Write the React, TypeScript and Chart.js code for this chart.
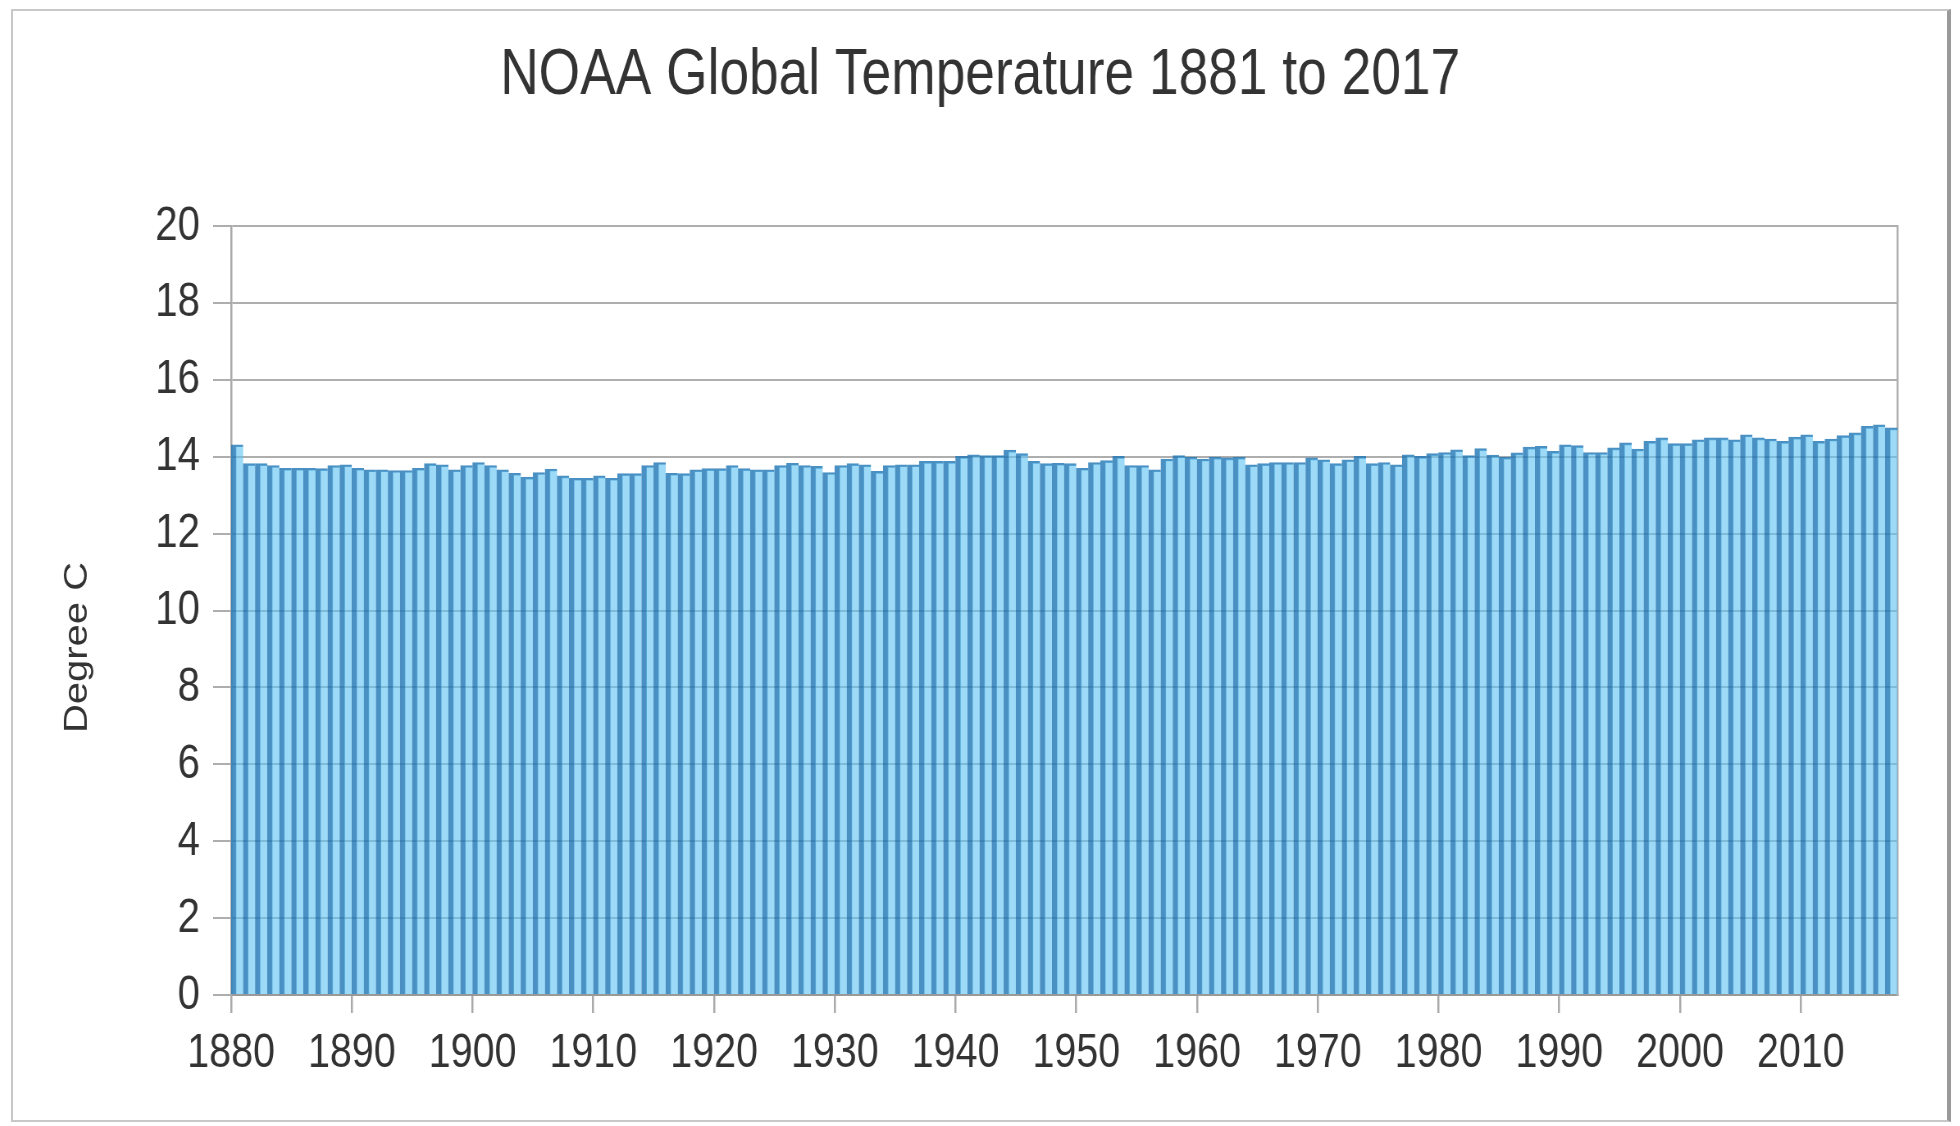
import React, { useEffect, useRef } from "react";
import { Chart, registerables } from "chart.js";

Chart.register(...registerables);

const TITLE = "NOAA Global Temperature 1881 to 2017";
const Y_TITLE = "Degree C";
const FIRST_YEAR = 1880;
const X_MIN = 1880;
const X_MAX = 2018;
const Y_MIN = 0;
const Y_MAX = 20;
const Y_STEP = 2;
const X_STEP = 10;

const temps1880s = [14.31, 13.82, 13.82, 13.77, 13.70, 13.70, 13.70, 13.69, 13.77, 13.79];
const temps1890s = [13.70, 13.66, 13.66, 13.64, 13.64, 13.70, 13.82, 13.79, 13.66, 13.77];
const temps1900s = [13.85, 13.77, 13.66, 13.57, 13.47, 13.59, 13.68, 13.50, 13.44, 13.44];
const temps1910s = [13.50, 13.44, 13.56, 13.56, 13.77, 13.85, 13.57, 13.56, 13.66, 13.69];
const temps1920s = [13.69, 13.77, 13.69, 13.66, 13.66, 13.77, 13.83, 13.77, 13.75, 13.59];
const temps1930s = [13.77, 13.82, 13.79, 13.62, 13.77, 13.79, 13.79, 13.88, 13.88, 13.88];
const temps1940s = [14.01, 14.05, 14.03, 14.03, 14.17, 14.08, 13.88, 13.82, 13.83, 13.82];
const temps1950s = [13.70, 13.85, 13.90, 14.01, 13.77, 13.77, 13.66, 13.94, 14.03, 13.99];
const temps1960s = [13.94, 13.99, 13.97, 13.99, 13.79, 13.82, 13.85, 13.85, 13.85, 13.97];
const temps1970s = [13.92, 13.82, 13.92, 14.01, 13.82, 13.85, 13.79, 14.05, 14.01, 14.08];
const temps1980s = [14.11, 14.18, 14.03, 14.21, 14.04, 13.99, 14.10, 14.25, 14.27, 14.14];
const temps1990s = [14.31, 14.29, 14.11, 14.11, 14.23, 14.36, 14.20, 14.40, 14.49, 14.34];
const temps2000s = [14.34, 14.44, 14.49, 14.49, 14.44, 14.57, 14.49, 14.46, 14.40, 14.51];
const temps2010s = [14.57, 14.40, 14.46, 14.55, 14.62, 14.79, 14.83, 14.75];

const temps = [
  ...temps1880s, ...temps1890s, ...temps1900s, ...temps1910s, ...temps1920s,
  ...temps1930s, ...temps1940s, ...temps1950s, ...temps1960s, ...temps1970s,
  ...temps1980s, ...temps1990s, ...temps2000s, ...temps2010s,
];
const years = temps.map((_, i) => FIRST_YEAR + i);

const FONT = "'Liberation Sans', Arial, sans-serif";

// The reference is horizontally compressed; draw wide and squeeze with CSS.
const SQUEEZE = 0.82;
const CANVAS_W = Math.round(1934 / SQUEEZE);
const CANVAS_H = 1109;
const LEFT_AXIS_W = Math.round(218 / SQUEEZE);
const RIGHT_AXIS_W = CANVAS_W - Math.round(1884 / SQUEEZE);

export default function App() {
  const ref = useRef<HTMLCanvasElement | null>(null);

  useEffect(() => {
    if (!ref.current) return;
    const extras = {
      id: "extras",
      afterDraw(chart: any) {
        const { ctx, chartArea } = chart;
        ctx.save();
        ctx.translate(79, (chartArea.top + chartArea.bottom) / 2 + 37);
        ctx.rotate(-Math.PI / 2);
        ctx.font = `40px ${FONT}`;
        ctx.fillStyle = "#333";
        ctx.textAlign = "center";
        ctx.textBaseline = "middle";
        ctx.fillText(Y_TITLE, 0, 0);
        ctx.restore();
      },
    };

    const chart = new Chart(ref.current, {
      type: "bar",
      data: {
        datasets: [
          {
            data: years.map((y, i) => ({ x: y + 0.5, y: temps[i] })),
            backgroundColor: "rgba(95,196,242,0.62)",
            borderColor: "rgba(35,120,180,0.82)",
            borderWidth: { left: 6, top: 2, right: 0, bottom: 0 },
            borderSkipped: false,
            barPercentage: 1,
            categoryPercentage: 1,
          },
        ],
      },
      options: {
        animation: false,
        responsive: false,
        layout: { padding: 0 },
        plugins: {
          legend: { display: false },
          tooltip: { enabled: false },
          title: {
            display: true,
            text: TITLE,
            color: "#333",
            font: { family: FONT, size: 65, weight: "normal" },
            padding: { top: 26, bottom: 111 },
          },
        },
        scales: {
          x: {
            type: "linear",
            min: X_MIN,
            max: X_MAX,
            offset: false,
            afterBuildTicks: (scale: any) => {
              scale.ticks = scale.ticks.filter((t: any) => t.value % X_STEP === 0);
            },
            afterFit: (scale: any) => {
              scale.height = 125;
            },
            ticks: {
              stepSize: X_STEP,
              includeBounds: false,
              autoSkip: false,
              maxRotation: 0,
              padding: 12,
              color: "#333",
              font: { family: FONT, size: 48 },
              callback: (v: any) => String(v),
            },
            grid: {
              offset: false,
              drawOnChartArea: false,
              drawTicks: true,
              tickLength: 18,
              color: "#aaa",
              lineWidth: 2.5,
            },
            border: { display: true, color: "#999", width: 2 },
          },
          y: {
            min: Y_MIN,
            max: Y_MAX,
            afterFit: (scale: any) => {
              scale.width = LEFT_AXIS_W;
            },
            ticks: {
              stepSize: Y_STEP,
              padding: 16,
              color: "#333",
              font: { family: FONT, size: 49 },
            },
            grid: {
              color: "#aeaeae",
              lineWidth: 2,
              tickLength: 22,
            },
            border: { display: true, color: "#aaa", width: 2.5 },
          },
          yRight: {
            position: "right",
            min: Y_MIN,
            max: Y_MAX,
            afterFit: (scale: any) => {
              scale.width = RIGHT_AXIS_W;
            },
            ticks: { display: false },
            grid: { display: false, drawOnChartArea: false },
            border: { display: true, color: "#b0b0b0", width: 2.5 },
          },
        },
      },
      plugins: [extras],
    } as any);
    return () => chart.destroy();
  }, []);

  return (
    <div
      style={{
        position: "absolute",
        left: 11,
        top: 9,
        width: 1940,
        height: 1113,
        boxSizing: "border-box",
        border: "2px solid #c8c8c8",
        borderRight: "4px solid #9a9a9a",
        background: "#fff",
        overflow: "hidden",
      }}
    >
      <canvas
        ref={ref}
        width={CANVAS_W}
        height={CANVAS_H}
        style={{
          display: "block",
          width: CANVAS_W,
          height: CANVAS_H,
          transform: `scaleX(${SQUEEZE})`,
          transformOrigin: "0 0",
        }}
      />
    </div>
  );
}
